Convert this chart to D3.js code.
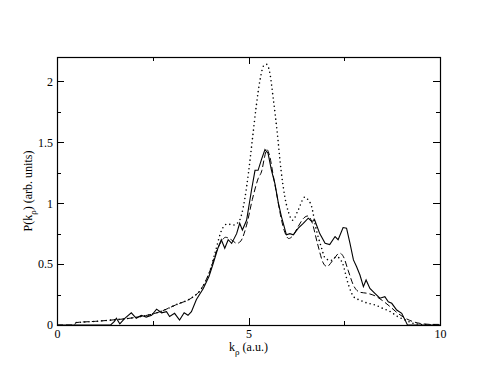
<!DOCTYPE html>
<html>
<head>
<meta charset="utf-8">
<script src="https://cdn.jsdelivr.net/npm/d3@7"></script>
<style>
  body { margin: 0; background: #fff; }
  svg { display: block; }
</style>
</head>
<body>
<div id="wrapper"></div>
<script>
// solid curve
const kSolid = [0, 1.4, 1.5, 1.55, 1.64, 1.77, 1.94, 2.07, 2.2, 2.33, 2.47, 2.6, 2.73, 2.86, 2.94, 3.07, 3.2, 3.32, 3.42, 3.51, 3.64, 3.82, 3.97, 4.08, 4.2, 4.29, 4.38, 4.47, 4.56, 4.69, 4.77, 4.84, 4.95, 5.08, 5.17, 5.25, 5.34, 5.43, 5.51, 5.6, 5.69, 5.78, 5.86, 5.99, 6.08, 6.17, 6.3, 6.43, 6.56, 6.65, 6.73, 6.86, 7.0, 7.12, 7.26, 7.34, 7.47, 7.56, 7.65, 7.74, 7.82, 7.91, 8.0, 8.07, 8.17, 8.3, 8.43, 8.56, 8.65, 8.74, 8.87, 9.0, 9.09, 9.15, 10];
const pSolid = [0, 0, 0.03, 0.055, 0.01, 0.055, 0.1, 0.055, 0.08, 0.065, 0.08, 0.13, 0.1, 0.11, 0.07, 0.096, 0.04, 0.1, 0.08, 0.11, 0.21, 0.3, 0.4, 0.507, 0.63, 0.7, 0.63, 0.7, 0.67, 0.75, 0.835, 0.78, 0.86, 1.11, 1.27, 1.27, 1.36, 1.44, 1.41, 1.27, 1.16, 1.0, 0.89, 0.74, 0.75, 0.74, 0.795, 0.835, 0.877, 0.85, 0.86, 0.75, 0.67, 0.66, 0.726, 0.7, 0.8, 0.795, 0.67, 0.534, 0.48, 0.41, 0.315, 0.37, 0.3, 0.26, 0.22, 0.233, 0.19, 0.178, 0.123, 0.096, 0.04, 0, 0];

// dashed curve
const kDashed = [0, 0.45, 0.5, 1.0, 1.4, 2.0, 2.7, 3.1, 3.55, 3.73, 4.0, 4.16, 4.3, 4.4, 4.55, 4.7, 4.8, 4.95, 5.1, 5.25, 5.35, 5.42, 5.48, 5.55, 5.65, 5.75, 5.85, 5.95, 6.05, 6.15, 6.3, 6.45, 6.55, 6.65, 6.8, 6.95, 7.05, 7.2, 7.38, 7.48, 7.6, 7.75, 7.9, 8.1, 8.3, 8.5, 8.7, 8.9, 9.1, 9.3, 9.5, 9.75, 10];
const pDashed = [0, 0, 0.02, 0.03, 0.04, 0.06, 0.11, 0.165, 0.23, 0.28, 0.45, 0.6, 0.69, 0.72, 0.7, 0.67, 0.69, 0.82, 1.03, 1.2, 1.27, 1.38, 1.44, 1.39, 1.22, 1.05, 0.88, 0.76, 0.71, 0.73, 0.81, 0.88, 0.895, 0.85, 0.67, 0.51, 0.48, 0.53, 0.59, 0.56, 0.45, 0.32, 0.27, 0.26, 0.24, 0.2, 0.15, 0.096, 0.055, 0.027, 0.012, 0.005, 0.005];

// dotted curve
const kDotted = [0.5, 1.0, 1.4, 2.0, 2.7, 3.1, 3.55, 3.73, 4.0, 4.15, 4.3, 4.45, 4.6, 4.75, 4.9, 5.0, 5.1, 5.2, 5.3, 5.4, 5.47, 5.55, 5.65, 5.75, 5.85, 5.95, 6.05, 6.15, 6.3, 6.47, 6.55, 6.65, 6.75, 6.9, 7.0, 7.15, 7.3, 7.45, 7.6, 7.75, 7.9, 8.1, 8.3, 8.5, 8.7, 8.9, 9.1, 9.3, 9.5, 10];
const pDotted = [0.02, 0.03, 0.04, 0.06, 0.11, 0.165, 0.23, 0.28, 0.45, 0.62, 0.78, 0.83, 0.82, 0.85, 1.03, 1.25, 1.52, 1.79, 2.01, 2.13, 2.14, 2.08, 1.85, 1.58, 1.27, 1.05, 0.92, 0.86, 0.945, 1.05, 1.03, 0.97, 0.81, 0.64, 0.55, 0.53, 0.56, 0.51, 0.34, 0.23, 0.205, 0.18, 0.165, 0.137, 0.11, 0.068, 0.04, 0.014, 0.005, 0];

const xMajor = [0, 5, 10];
const xMinor = [2.5, 7.5];
const yMajor = [0, 0.5, 1, 1.5, 2];
const yMinor = [0.25, 0.75, 1.25, 1.75];

const FONT = "'Liberation Serif', 'DejaVu Serif', serif";
const width = 495, height = 383;
const margin = { top: 57, right: 55, bottom: 58, left: 57 };
const innerW = width - margin.left - margin.right;
const innerH = height - margin.top - margin.bottom;

const svg = d3.select("#wrapper").append("svg")
  .attr("width", width).attr("height", height)
  .attr("font-family", FONT);
const g = svg.append("g").attr("transform", `translate(${margin.left},${margin.top})`);

const x = d3.scaleLinear().domain([0, 10]).range([0, innerW]);
const y = d3.scaleLinear().domain([0, 2.2]).range([innerH, 0]);

// axes with inward ticks on all four sides
function axis(gen, values, size, labels, transform) {
  const a = g.append("g").attr("transform", transform || null)
    .call(gen.tickValues(values).tickSizeInner(-size).tickSizeOuter(0).tickPadding(4)
      .tickFormat(labels ? d3.format("") : () => ""));
  a.attr("font-family", FONT).attr("font-size", 12);
  a.select(".domain").remove();
  a.selectAll(".tick line").attr("stroke", "#000").attr("stroke-width", 1)
    .attr("shape-rendering", "crispEdges");
  a.selectAll(".tick text").attr("fill", "#000");
  return a;
}
axis(d3.axisBottom(x), xMajor, 7, true, `translate(0,${innerH})`);
axis(d3.axisBottom(x), xMinor, 4, false, `translate(0,${innerH})`);
axis(d3.axisTop(x), xMajor, 7, false);
axis(d3.axisTop(x), xMinor, 4, false);
axis(d3.axisLeft(y), yMajor, 7, true);
axis(d3.axisLeft(y), yMinor, 4, false);
axis(d3.axisRight(y), yMajor, 7, false, `translate(${innerW},0)`);
axis(d3.axisRight(y), yMinor, 4, false, `translate(${innerW},0)`);

g.append("rect").attr("x", 0.5).attr("y", 0.5).attr("width", innerW).attr("height", innerH)
  .attr("fill", "none").attr("stroke", "#000").attr("stroke-width", 1.2);

const line = d3.line().x(d => x(d[0])).y(d => y(d[1]));
const smooth = d3.line().x(d => x(d[0])).y(d => y(d[1])).curve(d3.curveMonotoneX);

g.append("path").datum(d3.zip(kDotted, pDotted))
  .attr("d", smooth).attr("fill", "none").attr("stroke", "#000")
  .attr("stroke-width", 1.6).attr("stroke-linecap", "round")
  .attr("stroke-dasharray", "0 4.3");
g.append("path").datum(d3.zip(kDashed, pDashed))
  .attr("d", smooth).attr("fill", "none").attr("stroke", "#000")
  .attr("stroke-width", 1).attr("stroke-dasharray", "6 3");
g.append("path").datum(d3.zip(kSolid, pSolid))
  .attr("d", line).attr("fill", "none").attr("stroke", "#000")
  .attr("stroke-width", 1.1);

// axis titles
const xl = svg.append("text").attr("x", margin.left + innerW / 2).attr("y", 351)
  .attr("text-anchor", "middle").attr("font-size", 12);
xl.append("tspan").text("k");
xl.append("tspan").attr("dy", 4).attr("font-size", 9).text("ρ");
xl.append("tspan").attr("dy", -4).text(" (a.u.)");

const yl = svg.append("text")
  .attr("transform", `translate(32,${margin.top + innerH / 2}) rotate(-90)`)
  .attr("text-anchor", "middle").attr("font-size", 12);
yl.append("tspan").text("P(k");
yl.append("tspan").attr("dy", 4).attr("font-size", 9).text("ρ");
yl.append("tspan").attr("dy", -4).text(") (arb. units)");
</script>
</body>
</html>
